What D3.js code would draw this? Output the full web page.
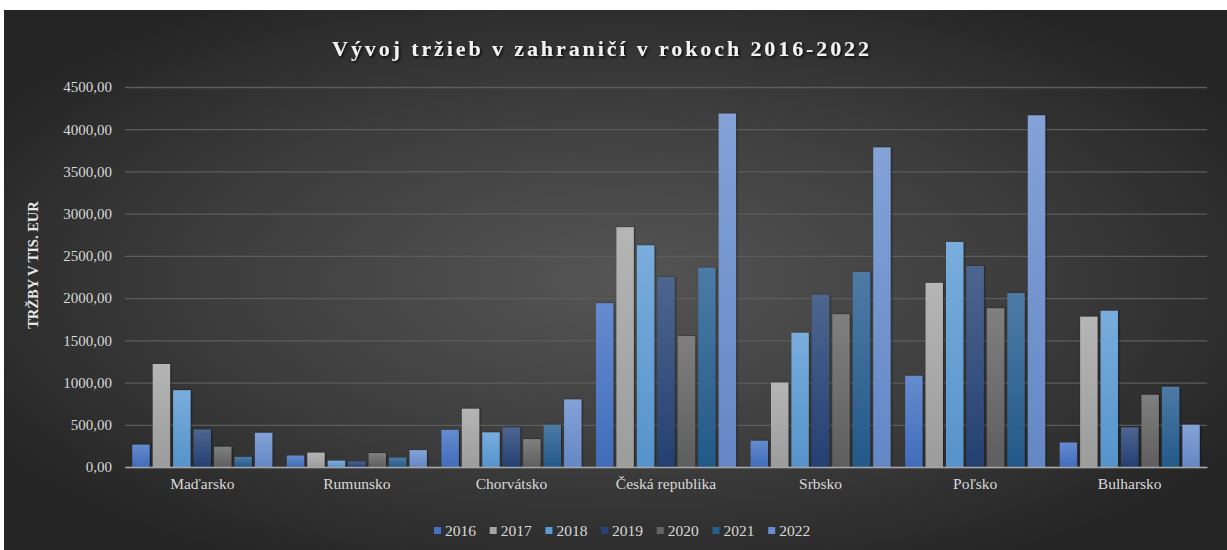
<!DOCTYPE html>
<html><head><meta charset="utf-8">
<script src="https://cdn.jsdelivr.net/npm/d3@7"></script>
<style>html,body{margin:0;padding:0;background:#fff;}svg{display:block;}</style>
</head><body>
<svg id="c" width="1227" height="550"></svg>
<script>
const categories = ["Maďarsko","Rumunsko","Chorvátsko","Česká republika","Srbsko","Poľsko","Bulharsko"];
const years = ["2016","2017","2018","2019","2020","2021","2022"];
const v2016 = [265, 135, 440, 1940, 310, 1080, 290];
const v2017 = [1220, 170, 690, 2840, 1000, 2180, 1780];
const v2018 = [910, 75, 410, 2625, 1590, 2665, 1850];
const v2019 = [445, 65, 470, 2250, 2040, 2380, 470];
const v2020 = [240, 165, 330, 1550, 1810, 1880, 855];
const v2021 = [120, 110, 500, 2360, 2310, 2060, 950];
const v2022 = [405, 200, 800, 4185, 3785, 4165, 500];
const seriesValues = [v2016, v2017, v2018, v2019, v2020, v2021, v2022];
const yTicks = [0,500,1000,1500,2000,2500,3000,3500,4000,4500];
const colors = ["#4472C4","#A5A5A5","#5B9BD5","#264478","#636363","#255E91","#698ED0"];

(function(){
const FONT = "'Liberation Serif', 'Times New Roman', serif";
const svg = d3.select("#c");
const defs = svg.append("defs");
const bg = defs.append("radialGradient").attr("id","bg").attr("cx","0.5").attr("cy","0.5").attr("r","0.6")
  .attr("gradientUnits","objectBoundingBox");
bg.append("stop").attr("offset","0").attr("stop-color","#555555");
bg.append("stop").attr("offset","0.55").attr("stop-color","#3d3d3d");
bg.append("stop").attr("offset","1").attr("stop-color","#252525");
colors.forEach((c,i)=>{
  const g = defs.append("linearGradient").attr("id","g"+i).attr("x1",0).attr("y1",0).attr("x2",0).attr("y2",1);
  g.append("stop").attr("offset","0").attr("stop-color", d3.interpolateRgb(c,"#ffffff")(0.18));
  g.append("stop").attr("offset","1").attr("stop-color", d3.color(c).darker(0.15).formatHex());
});
const f = defs.append("filter").attr("id","sh").attr("x","-20%").attr("y","-5%").attr("width","140%").attr("height","110%");
f.append("feDropShadow").attr("dx",1).attr("dy",0).attr("stdDeviation",1.2).attr("flood-color","#000").attr("flood-opacity",0.5);
const tf = defs.append("filter").attr("id","tsh");
tf.append("feDropShadow").attr("dx",1.5).attr("dy",1.5).attr("stdDeviation",1).attr("flood-color","#000").attr("flood-opacity",0.8);

svg.append("rect").attr("x",4).attr("y",10).attr("width",1223).attr("height",540).attr("fill","url(#bg)");

const pLeft=125, pRight=1207, pTop=87, pBottom=467;
const y = d3.scaleLinear().domain([0,4500]).range([pBottom,pTop]);
const x0 = d3.scaleBand().domain(categories).range([pLeft,pRight]).paddingInner(0.094).paddingOuter(0.047);
const x1 = d3.scaleBand().domain(years).range([0,x0.bandwidth()]).paddingInner(0.15);

const yAxis = d3.axisLeft(y).tickValues(yTicks).tickSize(-(pRight-pLeft)).tickFormat(d=>d3.format(".2f")(d).replace(".",","));
const ga = svg.append("g").attr("transform",`translate(${pLeft},0)`).call(yAxis);
ga.attr("font-family", FONT);
ga.select(".domain").remove();
ga.selectAll(".tick line").attr("stroke","#5c5c5c").attr("stroke-width",1.3);
ga.selectAll(".tick text").attr("x",-13).attr("fill","#d9d9d9").style("font-family",FONT).style("font-size","15px");

const groups = svg.append("g").selectAll("g").data(categories).join("g")
  .attr("transform",d=>`translate(${x0(d)},0)`);
groups.selectAll("rect").data((d,ci)=>years.map((yr,si)=>({yr,si,v:seriesValues[si][ci]}))).join("rect")
  .attr("x",d=>x1(d.yr)).attr("width",x1.bandwidth())
  .attr("y",d=>y(d.v)).attr("height",d=>y(0)-y(d.v))
  .attr("fill",d=>`url(#g${d.si})`).attr("filter","url(#sh)");

const xAxis = d3.axisBottom(x0).tickSize(0).tickPadding(11);
const gx = svg.append("g").attr("transform",`translate(0,${pBottom})`).call(xAxis);
gx.attr("font-family", FONT);
gx.select(".domain").attr("stroke","#a6a6a6").attr("stroke-width",1.5);
gx.selectAll(".tick text").attr("fill","#d9d9d9").style("font-family",FONT).style("font-size","15.5px");

svg.append("text").attr("x",602).attr("y",56).attr("text-anchor","middle")
  .attr("fill","#f2f2f2").style("font-family",FONT).style("font-size","22px")
  .style("font-weight","bold").style("letter-spacing","2.9px").attr("filter","url(#tsh)")
  .text("Vývoj tržieb v zahraničí v rokoch 2016-2022");

svg.append("text").attr("transform","translate(38,265) rotate(-90)").attr("text-anchor","middle")
  .attr("fill","#e6e6e6").style("font-family",FONT).style("font-size","14.5px").style("font-weight","bold")
  .text("TRŽBY V TIS. EUR");

const lg = svg.append("g").selectAll("g").data(years).join("g")
  .attr("transform",(d,i)=>`translate(${434 + i*55.7},531)`);
lg.append("rect").attr("x",0).attr("y",-4).attr("width",7).attr("height",7).attr("fill",(d,i)=>colors[i]);
lg.append("text").attr("x",11).attr("y",5).attr("fill","#d9d9d9")
  .style("font-family",FONT).style("font-size","15.5px").text(d=>d);
})();
</script>
</body></html>
